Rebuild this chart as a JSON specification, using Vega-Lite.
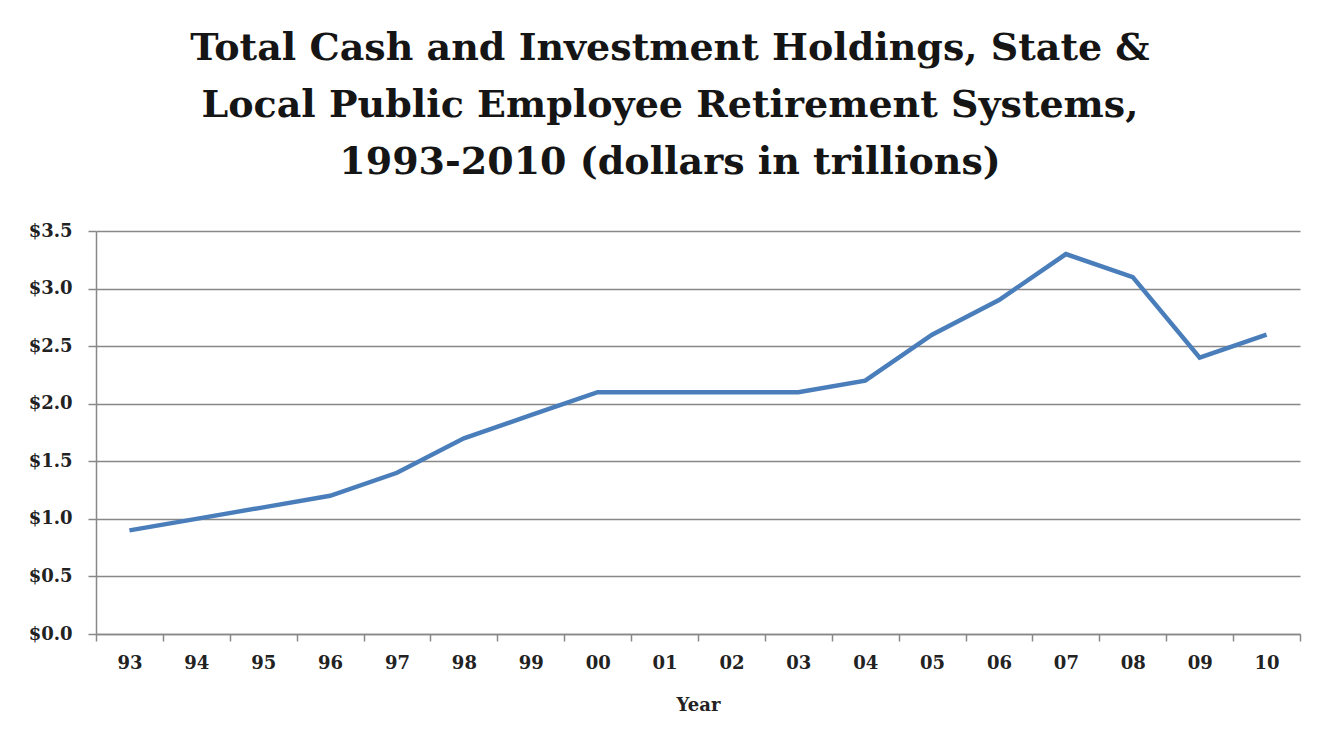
{
  "$schema": "https://vega.github.io/schema/vega-lite/v6.json",
  "autosize": "none",
  "width": 1204,
  "height": 403,
  "padding": {"left": 96, "top": 231, "right": 25, "bottom": 122},
  "background": "white",
  "title": {
    "text": ["Total Cash and Investment Holdings, State &", "Local Public Employee Retirement Systems,", "1993-2010 (dollars in trillions)"],
    "font": "DejaVu Serif",
    "fontSize": 38,
    "fontWeight": "bold",
    "color": "#151515",
    "lineHeight": 57,
    "anchor": "middle",
    "frame": "group",
    "dx": -28,
    "offset": 40
  },
  "data": {
    "values": [
      {"year": "93", "value": 0.9},
      {"year": "94", "value": 1.0},
      {"year": "95", "value": 1.1},
      {"year": "96", "value": 1.2},
      {"year": "97", "value": 1.4},
      {"year": "98", "value": 1.7},
      {"year": "99", "value": 1.9},
      {"year": "00", "value": 2.1},
      {"year": "01", "value": 2.1},
      {"year": "02", "value": 2.1},
      {"year": "03", "value": 2.1},
      {"year": "04", "value": 2.2},
      {"year": "05", "value": 2.6},
      {"year": "06", "value": 2.9},
      {"year": "07", "value": 3.3},
      {"year": "08", "value": 3.1},
      {"year": "09", "value": 2.4},
      {"year": "10", "value": 2.6}
    ]
  },
  "mark": {"type": "line", "color": "#4A7EBB", "strokeWidth": 4.5, "strokeJoin": "miter"},
  "encoding": {
    "x": {
      "field": "year",
      "type": "ordinal",
      "sort": null,
      "bandPosition": 0.5,
      "scale": {"type": "band", "paddingInner": 0, "paddingOuter": 0},
      "axis": {
        "title": "Year",
        "titleFont": "DejaVu Serif",
        "titleFontSize": 18,
        "titleFontWeight": "bold",
        "titleColor": "#222222",
        "titlePadding": 24,
        "labelFont": "DejaVu Serif",
        "labelFontSize": 18,
        "labelFontWeight": "bold",
        "labelColor": "#222222",
        "labelAngle": 0,
        "labelPadding": 13,
        "tickBand": "extent",
        "tickSize": 7,
        "tickColor": "#888888",
        "tickWidth": 1.5,
        "domainColor": "#888888",
        "domainWidth": 1.5,
        "grid": false
      }
    },
    "y": {
      "field": "value",
      "type": "quantitative",
      "scale": {"domain": [0, 3.5], "nice": false},
      "axis": {
        "title": null,
        "values": [0, 0.5, 1, 1.5, 2, 2.5, 3, 3.5],
        "format": "$.1f",
        "labelFont": "DejaVu Serif",
        "labelFontSize": 18,
        "labelFontWeight": "bold",
        "labelColor": "#222222",
        "labelPadding": 16,
        "tickSize": 8,
        "tickColor": "#888888",
        "tickWidth": 1.5,
        "domainColor": "#888888",
        "domainWidth": 1.5,
        "grid": true,
        "gridColor": "#888888",
        "gridWidth": 1.5
      }
    }
  },
  "config": {"view": {"stroke": null}}
}
